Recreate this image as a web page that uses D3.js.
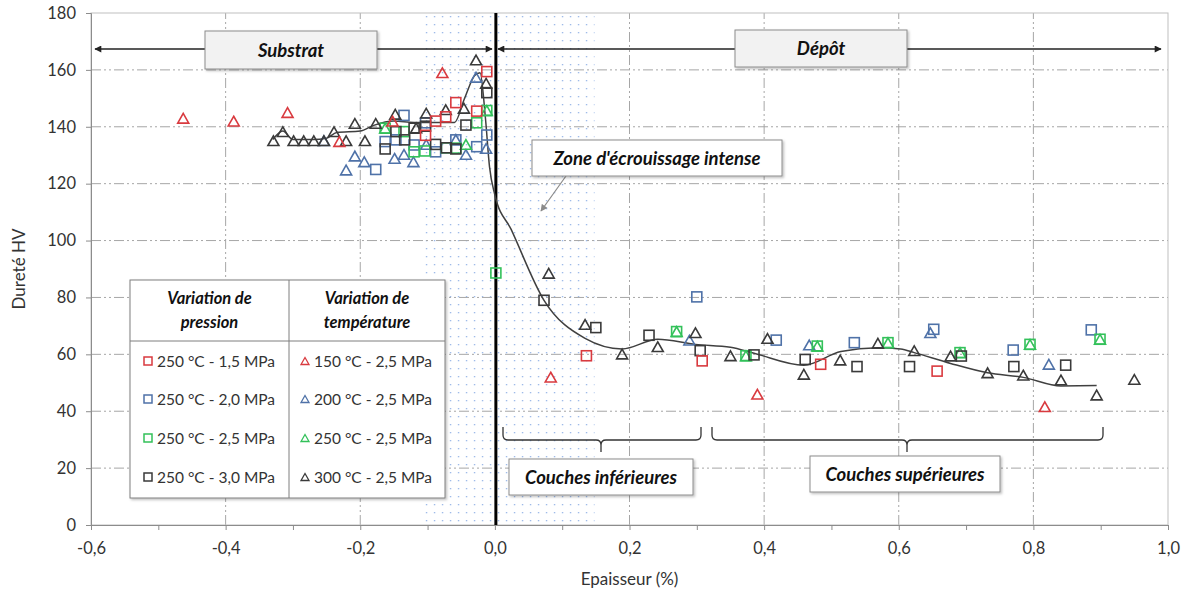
<!DOCTYPE html>
<html><head><meta charset="utf-8">
<script src="https://cdn.jsdelivr.net/npm/d3@7"></script>
<style>
body{margin:0;background:#fff;}
svg{display:block;font-family:Lato,"Liberation Sans",sans-serif;}
</style></head>
<body><svg id="c" width="1184" height="594"></svg>
<script>
// ---------- data ----------
const xTicks = [-0.6,-0.4,-0.2,0.0,0.2,0.4,0.6,0.8,1.0];
const yTicks = [0,20,40,60,80,100,120,140,160,180];

const p15 = [[-0.103,137],[-0.088,142],[-0.073,143.5],[-0.058,148.5],[-0.027,145.5],[-0.012,159.4],[0.136,59.5],[0.308,57.7],[0.484,56.5],[0.657,54.1]];
const p20 = [[-0.177,125],[-0.163,134.8],[-0.147,135.4],[-0.135,144],[-0.12,133.6],[-0.103,141.4],[-0.088,131.2],[-0.058,135.4],[-0.027,133],[-0.012,137.1],[0.30,80.2],[0.418,65],[0.534,64.1],[0.652,68.8],[0.77,61.5],[0.886,68.6]];
const p25 = [[-0.163,139.5],[-0.135,138.3],[-0.12,131.2],[-0.104,131.5],[-0.072,132.6],[-0.058,132.5],[-0.027,141.4],[-0.012,145.7],[0.0015,88.6],[0.27,68],[0.373,59.5],[0.479,62.9],[0.584,64.1],[0.691,60.6],[0.795,63.5],[0.899,65.3]];
const p30 = [[-0.163,132.2],[-0.147,138.3],[-0.134,135.4],[-0.12,139.5],[-0.103,140.2],[-0.088,133.8],[-0.072,132.6],[-0.058,132.2],[-0.043,140.6],[-0.012,152],[0.073,79],[0.15,69.4],[0.229,66.7],[0.305,61.3],[0.385,59.8],[0.461,58.2],[0.538,55.7],[0.616,55.7],[0.693,59.4],[0.771,55.7],[0.848,56.2]];
const t150 = [[-0.463,143],[-0.388,142],[-0.308,145],[-0.231,134.8],[-0.152,142],[-0.078,159],[0.083,52],[0.39,46],[0.817,41.6]];
const t200 = [[-0.254,135.1],[-0.221,124.8],[-0.208,129.7],[-0.194,127.7],[-0.149,128.9],[-0.135,130.3],[-0.121,127.7],[-0.102,133.8],[-0.058,135.5],[-0.043,130.3],[-0.028,157.4],[-0.013,132.4],[0.289,65],[0.467,63.3],[0.647,67.6],[0.823,56.5]];
const t250 = [[-0.163,139.5],[-0.043,133.8],[-0.012,145.7],[0.27,68],[0.373,59.5],[0.479,62.9],[0.584,64.1],[0.691,60.6],[0.795,63.5],[0.899,65.3]];
const t300 = [[-0.329,135.1],[-0.315,138.3],[-0.299,135.1],[-0.284,135.1],[-0.269,135.1],[-0.254,135.1],[-0.239,138.3],[-0.221,135.1],[-0.208,141.2],[-0.193,135.1],[-0.177,141.2],[-0.148,144.4],[-0.117,139.6],[-0.102,144.8],[-0.073,146],[-0.046,146.5],[-0.028,163.5],[-0.013,155.3],[0.08,88.5],[0.134,70.5],[0.189,60.1],[0.242,62.7],[0.298,67.6],[0.35,59.5],[0.405,65.6],[0.459,53],[0.513,58],[0.569,63.9],[0.623,61.3],[0.677,59.4],[0.732,53.5],[0.785,52.7],[0.841,51],[0.894,45.7],[0.95,51.2]];

const trendX = [-0.33,-0.315,-0.30,-0.27,-0.25,-0.235,-0.2,-0.18,-0.15,-0.12,-0.06,-0.045,-0.03,-0.022,-0.014,-0.008,0,0.024,0.073,0.134,0.189,0.242,0.298,0.35,0.385,0.459,0.514,0.569,0.603,0.623,0.677,0.732,0.785,0.841,0.894];
const trendY = [135.5,138.5,135.5,135.5,136,138,138.5,140.5,142,141.5,141.5,150,158,159,143,126,116,104,79,65.6,61.9,65.3,63.5,62.5,60.4,56.2,61,62.3,61.9,60.6,56.8,53.5,51.9,48.9,49];

const pressureLabels = ["250 °C - 1,5 MPa","250 °C - 2,0 MPa","250 °C - 2,5 MPa","250 °C - 3,0 MPa"];
const temperatureLabels = ["150 °C - 2,5 MPa","200 °C - 2,5 MPa","250 °C - 2,5 MPa","300 °C - 2,5 MPa"];
const colors = ["#d93a3f","#4f72a8","#33c15a","#3a3a3a"];

// ---------- chart ----------
const svg = d3.select("#c");
const x = d3.scaleLinear().domain([-0.6,1.0]).range([91,1168]);
const y = d3.scaleLinear().domain([0,180]).range([525,13]);
const fmt = v => d3.format(".1f")(v).replace(".",",").replace("−","-");

const defs = svg.append("defs");
const pat = defs.append("pattern").attr("id","dots").attr("patternUnits","userSpaceOnUse")
  .attr("width",8).attr("height",8).attr("x",x(-0.107)).attr("y",y(180));
pat.append("rect").attr("x",3).attr("y",3).attr("width",1.3).attr("height",1.3).attr("fill","#94b3e6");
defs.append("marker").attr("id","ah").attr("viewBox","0 0 10 10").attr("refX",9).attr("refY",5)
  .attr("markerWidth",9).attr("markerHeight",7).attr("markerUnits","userSpaceOnUse").attr("orient","auto-start-reverse")
  .append("path").attr("d","M0,0 L10,5 L0,10 z").attr("fill","#222");
defs.append("marker").attr("id","ahg").attr("viewBox","0 0 10 10").attr("refX",9).attr("refY",5)
  .attr("markerWidth",8).attr("markerHeight",7).attr("markerUnits","userSpaceOnUse").attr("orient","auto")
  .append("path").attr("d","M0,0 L10,5 L0,10 z").attr("fill","#8a8a8a");
const sh = defs.append("filter").attr("id","shadow").attr("x","-10%").attr("y","-20%").attr("width","130%").attr("height","160%");
sh.append("feDropShadow").attr("dx",1.5).attr("dy",1.5).attr("stdDeviation",1.2).attr("flood-color","#000").attr("flood-opacity",0.25);

// dotted zone
svg.append("rect").attr("x",x(-0.107)).attr("y",y(180)).attr("width",x(0.148)-x(-0.107))
  .attr("height",y(0)-y(180)).attr("fill","url(#dots)");

// gridlines
const dash = "10,3,2,3,2,3";
svg.append("g").selectAll("line").data([20,40,60,80,100,120,140,160]).join("line")
  .attr("x1",x(-0.6)).attr("x2",x(1.0)).attr("y1",d=>y(d)).attr("y2",d=>y(d))
  .attr("stroke","#a6a6a6").attr("stroke-dasharray",dash).attr("stroke-width",1);
svg.append("g").selectAll("line").data([-0.4,-0.2,0.2,0.4,0.6,0.8]).join("line")
  .attr("x1",d=>x(d)).attr("x2",d=>x(d)).attr("y1",y(0)).attr("y2",y(180))
  .attr("stroke","#a6a6a6").attr("stroke-dasharray",dash).attr("stroke-width",1);

// frame
svg.append("rect").attr("x",x(-0.6)).attr("y",y(180)).attr("width",x(1.0)-x(-0.6)).attr("height",y(0)-y(180))
  .attr("fill","none").attr("stroke","#bfbfbf");

// axes
const yAxis = svg.append("g").attr("transform",`translate(${x(-0.6)},0)`)
  .call(d3.axisLeft(y).tickValues(yTicks).tickSize(5).tickPadding(10).tickFormat(d3.format("d")));
const xAxis = svg.append("g").attr("transform",`translate(0,${y(0)})`)
  .call(d3.axisBottom(x).tickValues(d3.range(-6,11).map(d=>d/10)).tickSize(5).tickPadding(12)
    .tickFormat(d => (Math.round(d*10)%2===0) ? fmt(d) : ""));
[xAxis,yAxis].forEach(a=>{
  a.selectAll("path").attr("stroke","#8c8c8c");
  a.selectAll("line").attr("stroke","#8c8c8c");
  a.selectAll("text").attr("font-size",16.5).attr("fill","#333").attr("font-family","Lato, sans-serif");
});
svg.append("text").attr("x",(x(-0.6)+x(1.0))/2).attr("y",585).attr("text-anchor","middle")
  .attr("font-size",17).attr("fill","#333").text("Epaisseur (%)");
svg.append("text").attr("transform",`translate(25,${(y(0)+y(180))/2}) rotate(-90)`).attr("text-anchor","middle")
  .attr("font-size",17).attr("fill","#333").text("Dureté HV");

// vertical thick line at 0
svg.append("line").attr("x1",x(0)+1).attr("x2",x(0)+1).attr("y1",y(180)).attr("y2",y(0))
  .attr("stroke","#000").attr("stroke-width",3);

// trend line
const trend = trendX.map((d,i)=>[d,trendY[i]]);
svg.append("path").datum(trend)
  .attr("d",d3.line().x(d=>x(d[0])).y(d=>y(d[1])).curve(d3.curveMonotoneX))
  .attr("fill","none").attr("stroke","#404040").attr("stroke-width",1.5);

// markers
const sq = 10, tri = 11;
function drawSquares(data,color){
  svg.append("g").selectAll("rect").data(data).join("rect")
    .attr("x",d=>x(d[0])-sq/2).attr("y",d=>y(d[1])-sq/2).attr("width",sq).attr("height",sq)
    .attr("fill","none").attr("stroke",color).attr("stroke-width",1.6);
}
function triPath(cx,cy,s){
  const h = s*0.88;
  return `M${cx},${cy-h/2} L${cx+s/2},${cy+h/2} L${cx-s/2},${cy+h/2} Z`;
}
function drawTriangles(data,color){
  svg.append("g").selectAll("path").data(data).join("path")
    .attr("d",d=>triPath(x(d[0]),y(d[1]),tri))
    .attr("fill","none").attr("stroke",color).attr("stroke-width",1.6).attr("stroke-linejoin","miter");
}
drawSquares(p20,colors[1]); drawTriangles(t200,colors[1]);
drawSquares(p25,colors[2]); drawTriangles(t250,colors[2]);
drawSquares(p30,colors[3]); drawTriangles(t300,colors[3]);
drawSquares(p15,colors[0]); drawTriangles(t150,colors[0]);

// annotation boxes
function box(x0,y0,w,h,label,fill,size){
  svg.append("rect").attr("x",x0).attr("y",y0).attr("width",w).attr("height",h)
    .attr("fill",fill).attr("stroke","#8c8c8c").attr("stroke-width",1).attr("filter","url(#shadow)");
  svg.append("text").attr("x",x0+w/2).attr("y",y0+h/2+6.5).attr("text-anchor","middle")
    .attr("font-size",size).attr("font-weight","bold").attr("font-style","italic").attr("fill","#111").text(label);
}
// Substrat / Dépôt arrows
const arrowY = 49;
svg.append("line").attr("x1",205).attr("y1",arrowY).attr("x2",95).attr("y2",arrowY).attr("stroke","#222").attr("stroke-width",1.5).attr("marker-end","url(#ah)");
svg.append("line").attr("x1",377).attr("y1",arrowY).attr("x2",492).attr("y2",arrowY).attr("stroke","#222").attr("stroke-width",1.5).attr("marker-end","url(#ah)");
svg.append("line").attr("x1",735).attr("y1",arrowY).attr("x2",498).attr("y2",arrowY).attr("stroke","#222").attr("stroke-width",1.5).attr("marker-end","url(#ah)");
svg.append("line").attr("x1",907).attr("y1",arrowY).attr("x2",1161).attr("y2",arrowY).attr("stroke","#222").attr("stroke-width",1.5).attr("marker-end","url(#ah)");
box(205,31,172,38,"Substrat","#f2f2f2",18.5);
box(735,30,172,37,"Dépôt","#f2f2f2",18.5);

// zone arrow + box
svg.append("line").attr("x1",566).attr("y1",176).attr("x2",541).attr("y2",211).attr("stroke","#8a8a8a").attr("stroke-width",1.2).attr("marker-end","url(#ahg)");
box(532,140,250,36,"Zone d'écrouissage intense","#ffffff",18.5);

// braces
function brace(x0,x1,xm,yTop,yMid,yTip){
  const r=5;
  const p = `M${x0},${yTop} L${x0},${yMid-r} Q${x0},${yMid} ${x0+r},${yMid} L${xm-r},${yMid} Q${xm},${yMid} ${xm},${yMid+r} L${xm},${yTip}`
          + ` M${xm},${yMid+r} Q${xm},${yMid} ${xm+r},${yMid} L${x1-r},${yMid} Q${x1},${yMid} ${x1},${yMid-r} L${x1},${yTop}`;
  svg.append("path").attr("d",p).attr("fill","none").attr("stroke","#333").attr("stroke-width",1.3);
}
brace(503,701,601,427,440,452);
brace(712,1103,907,427,440,452);
box(509,459,184,36,"Couches inférieures","#ffffff",18.5);
box(810,456,190,36,"Couches supérieures","#ffffff",18.5);

// legend table
const L = {x:130,y:280,w:315,h:218,col:289,head:341};
const lg = svg.append("g");
lg.append("rect").attr("x",L.x).attr("y",L.y).attr("width",L.w).attr("height",L.h)
  .attr("fill","#fff").attr("stroke","#7f7f7f").attr("stroke-width",1).attr("filter","url(#shadow)");
lg.append("line").attr("x1",L.col).attr("x2",L.col).attr("y1",L.y).attr("y2",L.y+L.h).attr("stroke","#7f7f7f");
lg.append("line").attr("x1",L.x).attr("x2",L.x+L.w).attr("y1",L.head).attr("y2",L.head).attr("stroke","#7f7f7f");
[["Variation de","pression"],["Variation de","température"]].forEach((lines,i)=>{
  const cx = i===0 ? (L.x+L.col)/2 : (L.col+L.x+L.w)/2;
  lines.forEach((t,j)=>{
    lg.append("text").attr("x",cx).attr("y",304+j*24).attr("text-anchor","middle")
      .attr("font-size",16.5).attr("font-weight","bold").attr("font-style","italic").attr("fill","#111").text(t);
  });
});
const rowY = [361,399,438,477];
pressureLabels.forEach((t,i)=>{
  lg.append("rect").attr("x",144).attr("y",rowY[i]-4).attr("width",8).attr("height",8)
    .attr("fill","none").attr("stroke",colors[i]).attr("stroke-width",1.5);
  lg.append("text").attr("x",157).attr("y",rowY[i]+5.5).attr("font-size",15.5).attr("fill","#333").text(t);
});
temperatureLabels.forEach((t,i)=>{
  lg.append("path").attr("d",triPath(305,rowY[i],8)).attr("fill","none").attr("stroke",colors[i]).attr("stroke-width",1.3);
  lg.append("text").attr("x",314).attr("y",rowY[i]+5.5).attr("font-size",15.5).attr("fill","#333").text(t);
});
</script></body></html>
